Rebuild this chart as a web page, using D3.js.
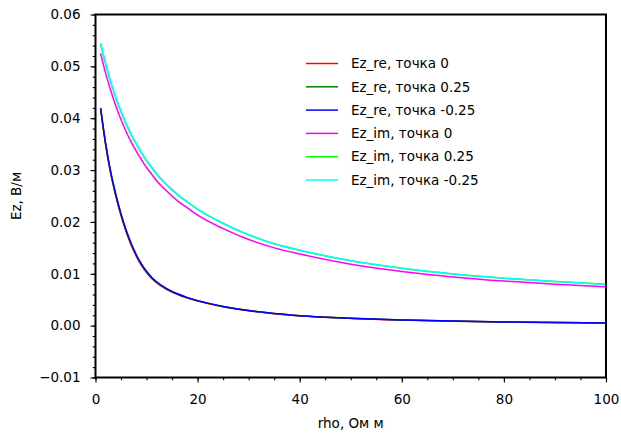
<!DOCTYPE html>
<html>
<head>
<meta charset="utf-8">
<script src="https://cdn.jsdelivr.net/npm/d3@7"></script>
<style>
  body { margin: 0; background: #fff; }
  text { font-family: "DejaVu Sans", sans-serif; fill: #000; }
</style>
</head>
<body>
<div id="chart"></div>
<script>
var rho = [1, 2, 3, 4, 5, 6, 7, 8, 9, 10, 11, 12, 14, 16, 18, 20, 25, 30, 35, 40, 50, 60, 70, 80, 90, 100];

var reRed   = [0.0420, 0.0347, 0.0292, 0.0249, 0.0212, 0.0181, 0.0155, 0.01337, 0.01162, 0.01023, 0.00912, 0.00825, 0.00697, 0.00604, 0.00531, 0.00473, 0.00364, 0.00287, 0.00231, 0.00190, 0.00139, 0.00107, 0.00086, 0.00071, 0.00059, 0.00050];
var reGreen = [0.0419, 0.0350, 0.0295, 0.0252, 0.0215, 0.0184, 0.0158, 0.01363, 0.01185, 0.01043, 0.00930, 0.00841, 0.00710, 0.00615, 0.00541, 0.00482, 0.00371, 0.00292, 0.00235, 0.00193, 0.00142, 0.00109, 0.00088, 0.00072, 0.00060, 0.00051];
var reBlue  = [0.0419, 0.0350, 0.0295, 0.0252, 0.0215, 0.0184, 0.0158, 0.01363, 0.01185, 0.01043, 0.00930, 0.00841, 0.00710, 0.00615, 0.00541, 0.00482, 0.00371, 0.00292, 0.00235, 0.00193, 0.00142, 0.00109, 0.00088, 0.00072, 0.00060, 0.00051];

var imMag   = [0.0525, 0.0486, 0.0453, 0.0423, 0.0397, 0.0374, 0.0354, 0.0336, 0.0320, 0.0305, 0.0292, 0.0279, 0.0259, 0.0241, 0.0227, 0.0213, 0.0187, 0.0166, 0.0150, 0.0138, 0.01185, 0.01045, 0.0094, 0.0086, 0.0080, 0.0075];
var imLime  = [0.0544, 0.0504, 0.0469, 0.0439, 0.04125, 0.0389, 0.0368, 0.0350, 0.0333, 0.0318, 0.0305, 0.0292, 0.0271, 0.0253, 0.0238, 0.0224, 0.0197, 0.0175, 0.0158, 0.01455, 0.0125, 0.01105, 0.00995, 0.00914, 0.00851, 0.00799];
var imCyan  = [0.0544, 0.0504, 0.0469, 0.0439, 0.04125, 0.0389, 0.0368, 0.0350, 0.0333, 0.0318, 0.0305, 0.0292, 0.0271, 0.0253, 0.0238, 0.0224, 0.0197, 0.0175, 0.0158, 0.01455, 0.0125, 0.01105, 0.00995, 0.00914, 0.00851, 0.00799];

var series = [
  { name: "Ez_re, точка 0",     color: "#ff0000", values: reRed },
  { name: "Ez_re, точка 0.25",  color: "#008000", values: reGreen },
  { name: "Ez_re, точка -0.25", color: "#0000ff", values: reBlue },
  { name: "Ez_im, точка 0",     color: "#ff00ff", values: imMag },
  { name: "Ez_im, точка 0.25",  color: "#00ff00", values: imLime },
  { name: "Ez_im, точка -0.25", color: "#00ffff", values: imCyan }
];

var yTicks = [-0.01, 0.00, 0.01, 0.02, 0.03, 0.04, 0.05, 0.06];
var xTicks = [0, 20, 40, 60, 80, 100];

var w = 621, h = 435;
var padL = 95.5, padR = 606, padT = 14.5, padB = 377.5;

var svg = d3.select("#chart").append("svg")
  .attr("width", w)
  .attr("height", h);

var xScale = d3.scaleLinear().domain([0, 100]).range([padL, padR]);
var yScale = d3.scaleLinear().domain([-0.01, 0.06]).range([padB, padT]);

var line = d3.line()
  .x(function(d) { return xScale(d[0]); })
  .y(function(d) { return yScale(d[1]); })
  .curve(d3.curveMonotoneX);

series.forEach(function(s) {
  svg.append("path")
    .datum(rho.map(function(r, i) { return [r, s.values[i]]; }))
    .attr("fill", "none")
    .attr("stroke", s.color)
    .attr("stroke-width", 1.5)
    .attr("d", line);
});

// minor ticks
var xMinor = svg.append("g")
  .attr("transform", "translate(0," + padB + ")")
  .call(d3.axisBottom(xScale).tickValues(d3.range(0, 101, 5)).tickSize(2.8).tickFormat(""));
var yMinor = svg.append("g")
  .attr("transform", "translate(" + padL + ",0)")
  .call(d3.axisLeft(yScale).tickValues(d3.range(-5, 31).map(function(k) { return k * 0.002; })).tickSize(2.8).tickFormat(""));

var xAxis = svg.append("g")
  .attr("transform", "translate(0," + padB + ")")
  .call(d3.axisBottom(xScale).tickValues(xTicks).tickSize(5).tickPadding(12).tickFormat(d3.format("d")));
var yAxis = svg.append("g")
  .attr("transform", "translate(" + padL + ",0)")
  .call(d3.axisLeft(yScale).tickValues(yTicks).tickSize(5).tickPadding(10).tickFormat(d3.format(".2f")));

[xMinor, yMinor, xAxis, yAxis].forEach(function(g) {
  g.select(".domain").remove();
  g.selectAll("line").attr("stroke", "#000").attr("stroke-width", 1.1);
  g.selectAll("text").attr("font-size", 13.5).style("font-family", "DejaVu Sans, sans-serif");
});

// frame
svg.append("rect")
  .attr("x", padL)
  .attr("y", padT)
  .attr("width", padR - padL)
  .attr("height", padB - padT)
  .attr("fill", "none")
  .attr("stroke", "#000")
  .attr("stroke-width", 2);

// legend
var legend = svg.append("g");
series.forEach(function(s, i) {
  var ly = 63.5 + i * 23.3;
  legend.append("line")
    .attr("x1", 306).attr("x2", 338)
    .attr("y1", ly).attr("y2", ly)
    .attr("stroke", s.color)
    .attr("stroke-width", 1.5);
  legend.append("text")
    .attr("x", 351)
    .attr("y", ly)
    .attr("dy", "0.35em")
    .attr("font-size", 13.5)
    .text(s.name);
});

// Add x-axis label
svg.append("text")
  .text("rho, Ом м")
  .attr("x", (padL + padR) / 2)
  .attr("y", 428)
  .attr("text-anchor", "middle")
  .attr("font-size", 13.5);

// Add y-axis label
svg.append("text")
  .text("Ez, В/м")
  .attr("transform", "rotate(-90)")
  .attr("x", -(padT + padB) / 2)
  .attr("y", 21)
  .attr("text-anchor", "middle")
  .attr("font-size", 13.5);
</script>
</body>
</html>
